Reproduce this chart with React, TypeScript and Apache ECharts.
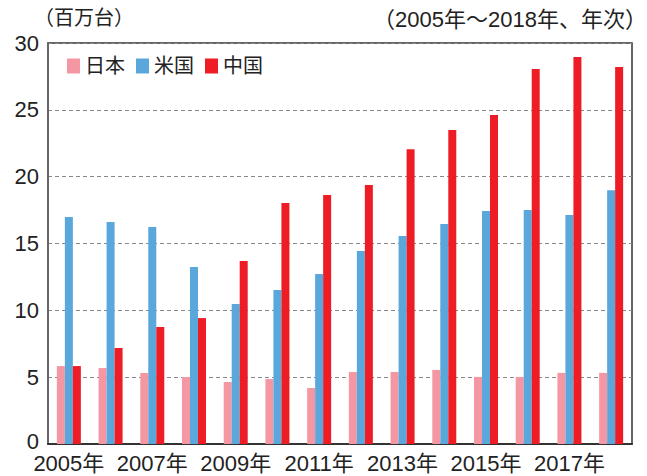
import React, { useEffect, useRef } from "react";
import * as echarts from "echarts";

const years = ["2005年","2006年","2007年","2008年","2009年","2010年","2011年","2012年","2013年","2014年","2015年","2016年","2017年","2018年"];
const japan = [5.83, 5.68, 5.31, 5.01, 4.64, 4.86, 4.19, 5.39, 5.39, 5.54, 5.02, 5.02, 5.32, 5.32];
const usa = [16.98, 16.6, 16.23, 13.24, 10.47, 11.52, 12.71, 14.44, 15.56, 16.45, 17.43, 17.5, 17.13, 18.99];
const china = [5.83, 7.18, 8.75, 9.42, 13.69, 18.03, 18.62, 19.37, 22.06, 23.49, 24.61, 28.05, 28.95, 28.2];
const seriesNames = ["日本", "米国", "中国"];
const colors = ["#F497A3", "#5AA7DC", "#EE1C25"];
const unitLabel = "（百万台）";
const noteLabel = "（2005年～2018年、年次）";

const FONT = "'Liberation Sans', 'Noto Sans CJK JP', sans-serif";

export default function App() {
  const ref = useRef<HTMLDivElement>(null);
  useEffect(() => {
    if (!ref.current) return;
    const chart = echarts.init(ref.current, undefined, { renderer: "svg" });
    const data = [japan, usa, china];
    chart.setOption({
      animation: false,
      backgroundColor: "#ffffff",
      textStyle: { fontFamily: FONT },
      title: [
        { text: unitLabel, left: 34, top: 8, padding: 0, textStyle: { fontSize: 20, fontWeight: "normal", color: "#222", fontFamily: FONT } },
        { text: noteLabel, right: 0, top: 8, padding: 0, textStyle: { fontSize: 22, fontWeight: "normal", color: "#222", fontFamily: FONT } },
      ],
      legend: {
        left: 67,
        top: 56,
        padding: 0,
        itemWidth: 13,
        itemHeight: 15,
        itemGap: 11,
        icon: "rect",
        textStyle: { fontSize: 20, color: "#222", fontFamily: FONT },
        data: seriesNames,
      },
      grid: {
        left: 48,
        right: 15,
        top: 43,
        bottom: 32,
        show: true,
        borderColor: "#333",
        borderWidth: 1.5,
        containLabel: false,
      },
      xAxis: {
        type: "category",
        data: years,
        axisTick: { show: false },
        axisLine: { lineStyle: { color: "#333", width: 2 } },
        axisLabel: { interval: 1, fontSize: 22, lineHeight: 16, color: "#222", margin: 11, fontFamily: FONT },
      },
      yAxis: {
        type: "value",
        min: 0,
        max: 30,
        interval: 5,
        axisLine: { show: true, lineStyle: { color: "#666", width: 2 } },
        axisTick: { show: false },
        axisLabel: {
          fontSize: 22,
          lineHeight: 16,
          color: "#222",
          margin: 9,
          fontFamily: FONT,
          formatter: (v: number) => (v === 0 ? "{z|0}" : String(v)),
          rich: { z: { fontSize: 22, lineHeight: 16, color: "#222", fontFamily: FONT, padding: [0, 0, 5, 0] } },
        },
        splitLine: { lineStyle: { color: "#888", type: [4, 3], width: 1 } },
      },
      series: seriesNames.map((name, i) => ({
        name,
        type: "bar",
        data: data[i],
        barWidth: 8,
        barGap: "0%",
        itemStyle: { color: colors[i] },
      })),
    });
    return () => chart.dispose();
  }, []);
  return <div ref={ref} style={{ width: 647, height: 476, position: "absolute", left: 0, top: 0 }} />;
}
